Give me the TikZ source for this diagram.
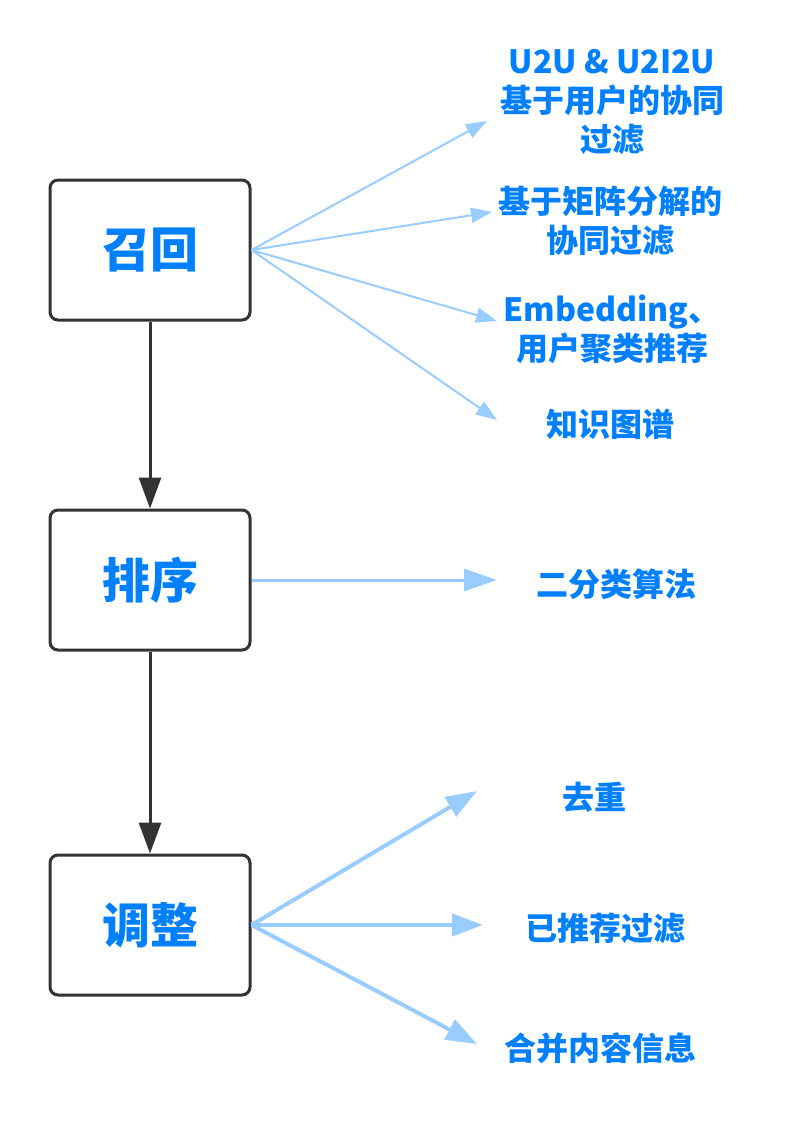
\documentclass[tikz,border=0pt]{standalone}
\usepackage{fontspec}
\setmainfont{Noto Sans CJK SC}
\usetikzlibrary{arrows.meta}
\definecolor{txtblue}{HTML}{007FFF}
\definecolor{lineblue}{HTML}{99CCFF}
\definecolor{boxgray}{HTML}{333333}
\tikzset{
  stage/.style={draw=boxgray, line width=3pt, rounded corners=8pt, fill=white,
    minimum width=200pt, minimum height=140pt, inner sep=0pt,
    text=txtblue, font=\fontsize{48pt}{52pt}\selectfont\bfseries},
  label/.style={text=txtblue, align=center, inner sep=0pt,
    font=\fontsize{32pt}{39pt}\selectfont\bfseries},
  flow/.style={draw=boxgray, line width=3pt, -{Triangle[length=31pt,width=22pt]}},
  thinlink/.style={draw=lineblue, line width=2pt, -{Triangle[length=21pt,width=15pt]}},
  midlink/.style={draw=lineblue, line width=3pt, -{Triangle[length=33pt,width=22pt]}},
  thicklink/.style={draw=lineblue, line width=4pt, -{Triangle[length=31pt,width=22pt]}},
}
\begin{document}
\begin{tikzpicture}[x=1pt, y=-1pt]
  \useasboundingbox[fill=white] (0,0) rectangle (785,1133);

  % pipeline stages
  \node[stage] (recall) at (150,250) {召回};
  \node[stage] (rank)   at (150,580) {排序};
  \node[stage] (adjust) at (150,925) {调整};

  \draw[flow] (recall.south) -- (rank.north);
  \draw[flow] (rank.south) -- (adjust.north);

  % recall methods
  \node[label] (r1) at (612,102) {U2U \& U2I2U\\基于用户的协同\\过滤};
  \node[label] (r2) at (610,221) {基于矩阵分解的\\协同过滤};
  \node[label] (r3) at (612,329) {Embedding、\\用户聚类推荐};
  \node[label] (r4) at (610,424) {知识图谱};

  \coordinate (r1e) at (487,121);
  \coordinate (r2e) at (492,212);
  \coordinate (r3e) at (497,321);
  \coordinate (r4e) at (497,420);

  \draw[thinlink] (recall.east) -- (r1e);
  \draw[thinlink] (recall.east) -- (r2e);
  \draw[thinlink] (recall.east) -- (r3e);
  \draw[thinlink] (recall.east) -- (r4e);

  % ranking
  \node[label] (k1) at (616,584) {二分类算法};
  \coordinate (k1e) at (497,580);
  \draw[midlink] (rank.east) -- (k1e);

  % adjustment steps
  \node[label] (a1) at (594,797) {去重};
  \node[label] (a2) at (605,929) {已推荐过滤};
  \node[label] (a3) at (600,1048) {合并内容信息};

  \coordinate (a1e) at (477,791);
  \coordinate (a2e) at (483,925);
  \coordinate (a3e) at (477,1044);

  \draw[thicklink] (adjust.east) -- (a1e);
  \draw[thicklink] (adjust.east) -- (a2e);
  \draw[thicklink] (adjust.east) -- (a3e);
\end{tikzpicture}
\end{document}
